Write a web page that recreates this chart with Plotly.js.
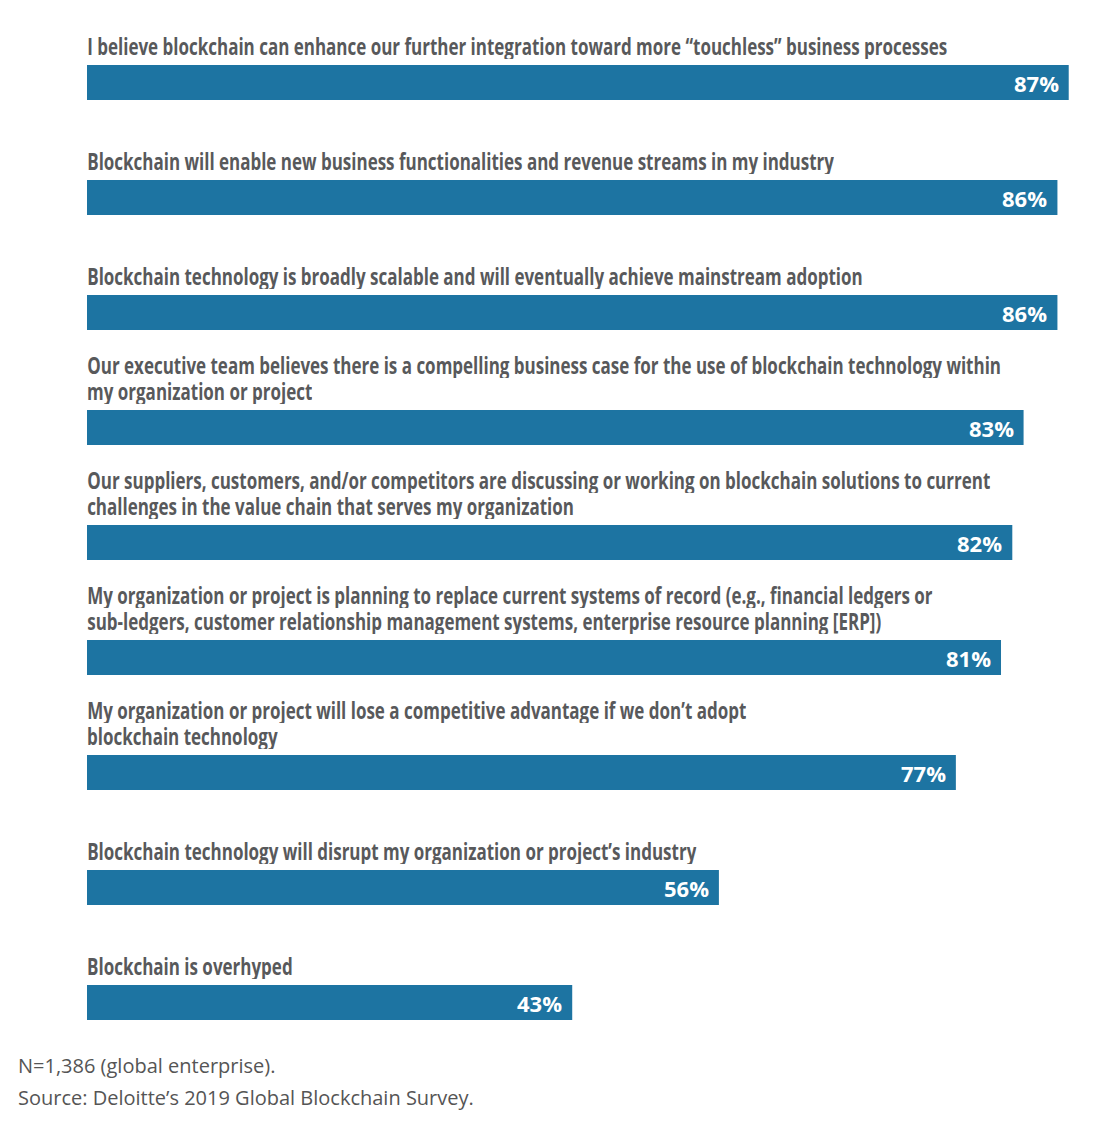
<!DOCTYPE html>
<html>
<head>
<meta charset="utf-8">
<script src="https://cdn.plot.ly/plotly-3.0.1.min.js"></script>
<style>html,body{margin:0;padding:0;background:#fff;}#chart{width:1112px;height:1124px;}</style>
</head>
<body>
<div id="chart"></div>
<script>
const statements = [
  "I believe blockchain can enhance our further integration toward more “touchless” business processes",
  "Blockchain will enable new business functionalities and revenue streams in my industry",
  "Blockchain technology is broadly scalable and will eventually achieve mainstream adoption",
  "Our executive team believes there is a compelling business case for the use of blockchain technology within<br>my organization or project",
  "Our suppliers, customers, and/or competitors are discussing or working on blockchain solutions to current<br>challenges in the value chain that serves my organization",
  "My organization or project is planning to replace current systems of record (e.g., financial ledgers or<br>sub-ledgers, customer relationship management systems, enterprise resource planning [ERP])",
  "My organization or project will lose a competitive advantage if we don’t adopt<br>blockchain technology",
  "Blockchain technology will disrupt my organization or project’s industry",
  "Blockchain is overhyped"
];
const agreePct = [87, 86, 86, 83, 82, 81, 77, 56, 43];
const footnotes = ["N=1,386 (global enterprise).", "Source: Deloitte’s 2019 Global Blockchain Survey."];

const BAR = '#1d74a2';
const LABEL = '#58595b';
const idx = statements.map((s, i) => i);
const barW = 0.304;

const annotations = [];
const labelAnnIdx = [];
statements.forEach((s, i) => {
  const lines = s.split('<br>');
  lines.forEach((ln, k) => {
    labelAnnIdx.push(annotations.length);
    annotations.push({
      xref: 'x', yref: 'y', x: 0, y: i - barW / 2,
      xanchor: 'left', yanchor: 'bottom',
      xshift: -2, yshift: 4 + (lines.length - 1 - k) * 26,
      height: 27,
      text: ln, showarrow: false,
      font: {family: 'Open Sans, sans-serif', size: 24, color: LABEL, weight: 700}
    });
  });
  annotations.push({
    xref: 'x', yref: 'y', x: agreePct[i], y: i,
    xanchor: 'right', yanchor: 'middle', xshift: -8,
    text: agreePct[i] + '%', showarrow: false,
    font: {family: 'Open Sans, sans-serif', size: 22, color: '#ffffff', weight: 700}
  });
});
footnotes.forEach((t, k) => {
  annotations.push({
    xref: 'paper', yref: 'paper', x: 0, y: 0,
    xanchor: 'left', yanchor: 'middle', xshift: -71, yshift: -5 - 32 * k,
    text: t, showarrow: false,
    font: {family: 'Open Sans, sans-serif', size: 20, color: '#555555'}
  });
});

const trace = {
  type: 'bar', orientation: 'h',
  x: agreePct, y: idx, width: barW,
  marker: {color: BAR},
  hoverinfo: 'none'
};

const layout = {
  width: 1112, height: 1124,
  margin: {l: 87, r: 32, t: 25, b: 64},
  paper_bgcolor: '#ffffff', plot_bgcolor: '#ffffff',
  showlegend: false,
  xaxis: {range: [0, 88], showgrid: false, zeroline: false, showticklabels: false, showline: false, fixedrange: true},
  yaxis: {range: [8.5, -0.5], showgrid: false, zeroline: false, showticklabels: false, showline: false, fixedrange: true},
  annotations: annotations
};

Plotly.newPlot('chart', [trace], layout, {displayModeBar: false, staticPlot: true}).then(gd => {
  // condense the statement labels horizontally (reference uses a condensed face)
  const r = 0.708;
  labelAnnIdx.forEach(ai => {
    const g = gd.querySelector('.annotation[data-index="' + ai + '"]');
    if (!g) return;
    const t = g.querySelector('text.annotation-text');
    if (!t) return;
    const bb = t.getBBox();
    const L = bb.x;
    t.setAttribute('transform', 'translate(' + (L * (1 - r)) + ',0) scale(' + r + ',1)');
  });
});
</script>
</body>
</html>
